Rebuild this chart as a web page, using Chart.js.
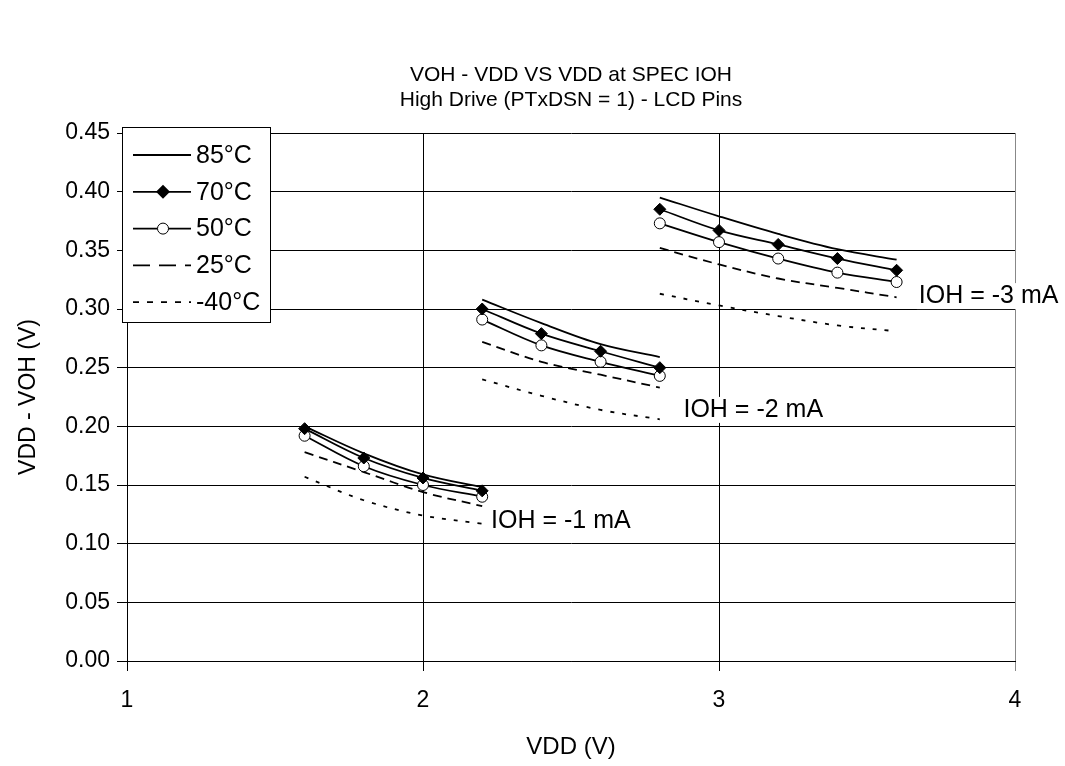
<!DOCTYPE html>
<html>
<head>
<meta charset="utf-8">
<script src="https://cdn.jsdelivr.net/npm/chart.js@4"></script>
<style>
  html, body { margin: 0; padding: 0; background: #fff; }
  #wrap { width: 1065px; height: 766px; }
</style>
</head>
<body>
<div id="wrap"><canvas id="grafico" width="1065" height="766"></canvas></div>
<script>
// Valores (VDD - VOH em V)
const vddI1 = [1.6, 1.8, 2.0, 2.2];
const vddI2 = [2.2, 2.4, 2.6, 2.8];
const vddI3 = [2.8, 3.0, 3.2, 3.4, 3.6];

const temps = ['85°C', '70°C', '50°C', '25°C', '-40°C'];

const t85_i1 = [0.200, 0.177, 0.159, 0.148];
const t85_i2 = [0.308, 0.288, 0.270, 0.259];
const t85_i3 = [0.395, 0.379, 0.364, 0.351, 0.342];

const t70_i1 = [0.198, 0.173, 0.156, 0.145];
const t70_i2 = [0.300, 0.279, 0.264, 0.250];
const t70_i3 = [0.385, 0.367, 0.355, 0.343, 0.333];

const t50_i1 = [0.192, 0.166, 0.150, 0.140];
const t50_i2 = [0.291, 0.269, 0.255, 0.243];
const t50_i3 = [0.373, 0.357, 0.343, 0.331, 0.323];

const t25_i1 = [0.178, 0.161, 0.144, 0.132];
const t25_i2 = [0.272, 0.255, 0.244, 0.233];
const t25_i3 = [0.352, 0.338, 0.326, 0.318, 0.310];

const tm40_i1 = [0.157, 0.137, 0.124, 0.117];
const tm40_i2 = [0.240, 0.226, 0.214, 0.206];
const tm40_i3 = [0.313, 0.303, 0.294, 0.286, 0.281];

const yTicks = [0, 0.05, 0.10, 0.15, 0.20, 0.25, 0.30, 0.35, 0.40, 0.45];
const xTicks = [1, 2, 3, 4];

const titulo = ['VOH - VDD VS VDD at SPEC IOH', 'High Drive (PTxDSN = 1) - LCD Pins'];

// rótulos das correntes (posição em unidades do gráfico)
const rotulos = [
    { texto: 'IOH = -1 mA', x: 2.23, y: 0.119 },
    { texto: 'IOH = -2 mA', x: 2.88, y: 0.214 },
    { texto: 'IOH = -3 mA', x: 3.675, y: 0.311 }
];

const FONTE = '"Liberation Sans", Arial, sans-serif';

// estilo de cada temperatura
const estilos = {
    '85°C':  { dash: [],     ponto: false,     fill: '#000', raio: 0 },
    '70°C':  { dash: [],     ponto: 'rectRot', fill: '#000', raio: 6 },
    '50°C':  { dash: [],     ponto: 'circle',  fill: '#fff', raio: 5.5 },
    '25°C':  { dash: [9, 6], ponto: false,     fill: '#000', raio: 0 },
    '-40°C': { dash: [4, 8], ponto: false,     fill: '#000', raio: 0 }
};

function serie(temp, xs, ys) {
    const e = estilos[temp];
    return {
        label: temp,
        data: xs.map((x, i) => ({ x: x, y: ys[i] })),
        showLine: true,
        borderColor: '#000',
        borderWidth: 1.8,
        borderDash: e.dash,
        tension: 0.35,
        pointStyle: e.ponto || 'circle',
        pointRadius: e.raio,
        pointBackgroundColor: e.fill,
        pointBorderColor: '#000',
        pointBorderWidth: 1
    };
}

const datasets = [
    serie('85°C', vddI1, t85_i1), serie('85°C', vddI2, t85_i2), serie('85°C', vddI3, t85_i3),
    serie('70°C', vddI1, t70_i1), serie('70°C', vddI2, t70_i2), serie('70°C', vddI3, t70_i3),
    serie('50°C', vddI1, t50_i1), serie('50°C', vddI2, t50_i2), serie('50°C', vddI3, t50_i3),
    serie('25°C', vddI1, t25_i1), serie('25°C', vddI2, t25_i2), serie('25°C', vddI3, t25_i3),
    serie('-40°C', vddI1, tm40_i1), serie('-40°C', vddI2, tm40_i2), serie('-40°C', vddI3, tm40_i3)
];

// Desenha título, legenda dentro da área do gráfico e os rótulos de IOH
const extras = {
    id: 'extras',
    afterDatasetsDraw(chart) {
        const ctx = chart.ctx;
        const xs = chart.scales.x, ys = chart.scales.y;
        const a = chart.chartArea;
        ctx.save();
        ctx.fillStyle = '#000';
        ctx.textBaseline = 'middle';

        // título centrado sobre a área de plotagem
        ctx.font = '21px ' + FONTE;
        ctx.textAlign = 'center';
        titulo.forEach((linha, i) => {
            ctx.fillText(linha, (a.left + a.right) / 2, 75 + i * 25.5);
        });

        ctx.font = '25px ' + FONTE;
        ctx.textAlign = 'left';
        rotulos.forEach(r => {
            const px = xs.getPixelForValue(r.x), py = ys.getPixelForValue(r.y);
            ctx.fillStyle = '#fff';
            ctx.fillRect(px - 2, py - 13, ctx.measureText(r.texto).width + 4, 26);
            ctx.fillStyle = '#000';
            ctx.fillText(r.texto, px, py);
        });

        // legenda
        const bx = a.left - 5, by = a.top - 6, bw = 148, bh = 195;
        ctx.fillStyle = '#fff';
        ctx.fillRect(bx, by, bw, bh);
        ctx.strokeStyle = '#000';
        ctx.lineWidth = 1;
        ctx.strokeRect(bx + 0.5, by + 0.5, bw, bh);
        ctx.font = '25px ' + FONTE;
        const legDash = { '85°C': [], '70°C': [], '50°C': [], '25°C': [17, 9], '-40°C': [6, 8] };
        temps.forEach((t, i) => {
            const e = estilos[t];
            const ly = by + 28 + i * 36.8;
            ctx.beginPath();
            ctx.setLineDash(legDash[t]);
            ctx.lineWidth = 1.8;
            ctx.moveTo(bx + 11, ly);
            ctx.lineTo(bx + 69, ly);
            ctx.stroke();
            ctx.setLineDash([]);
            if (e.ponto === 'rectRot') {
                ctx.fillStyle = '#000';
                ctx.beginPath();
                ctx.moveTo(bx + 41, ly - 7); ctx.lineTo(bx + 48, ly);
                ctx.lineTo(bx + 41, ly + 7); ctx.lineTo(bx + 34, ly);
                ctx.closePath(); ctx.fill();
            } else if (e.ponto === 'circle') {
                ctx.fillStyle = '#fff';
                ctx.beginPath();
                ctx.arc(bx + 41, ly, 5.5, 0, Math.PI * 2);
                ctx.fill(); ctx.lineWidth = 1; ctx.stroke();
            }
            ctx.fillStyle = '#000';
            ctx.fillText(t, bx + 74, ly + 1);
        });
        ctx.restore();
    }
};

document.addEventListener('DOMContentLoaded', function () {
    const ctx = document.getElementById('grafico').getContext('2d');
    Chart.defaults.font.family = FONTE;
    Chart.defaults.color = '#000';

    new Chart(ctx, {
        type: 'scatter',
        data: { datasets: datasets },
        plugins: [extras],
        options: {
            responsive: false,
            maintainAspectRatio: false,
            animation: false,
            devicePixelRatio: 1,
            layout: { padding: { top: 133, right: 50, bottom: 0, left: 0 } },
            plugins: {
                legend: { display: false },
                tooltip: { enabled: false },
                title: { display: false }
            },
            scales: {
                x: {
                    type: 'linear',
                    min: 1, max: 4,
                    afterFit(s) { s.height = 105; },
                    afterBuildTicks(s) { s.ticks = xTicks.map(v => ({ value: v })); },
                    ticks: { font: { size: 23 }, padding: 16, color: '#000' },
                    grid: {
                        color: ctx => ctx.tick && ctx.tick.value === 4 ? '#888' : '#000',
                        lineWidth: 1,
                        tickLength: 10
                    },
                    border: { color: '#000' },
                    title: {
                        display: true, text: 'VDD (V)',
                        font: { size: 24 }, color: '#000',
                        padding: { top: 0, bottom: 4 }
                    }
                },
                y: {
                    type: 'linear',
                    min: 0, max: 0.45,
                    afterFit(s) { s.width = 127; },
                    afterBuildTicks(s) { s.ticks = yTicks.map(v => ({ value: v })); },
                    ticks: {
                        font: { size: 23 }, padding: 7, color: '#000',
                        callback: v => v.toFixed(2)
                    },
                    grid: { color: '#000', lineWidth: 1, tickLength: 10 },
                    border: { color: '#000' },
                    title: {
                        display: true, text: 'VDD - VOH (V)',
                        font: { size: 23 }, color: '#000',
                        padding: { top: 15, bottom: 0 }
                    }
                }
            }
        }
    });
});
</script>
</body>
</html>
